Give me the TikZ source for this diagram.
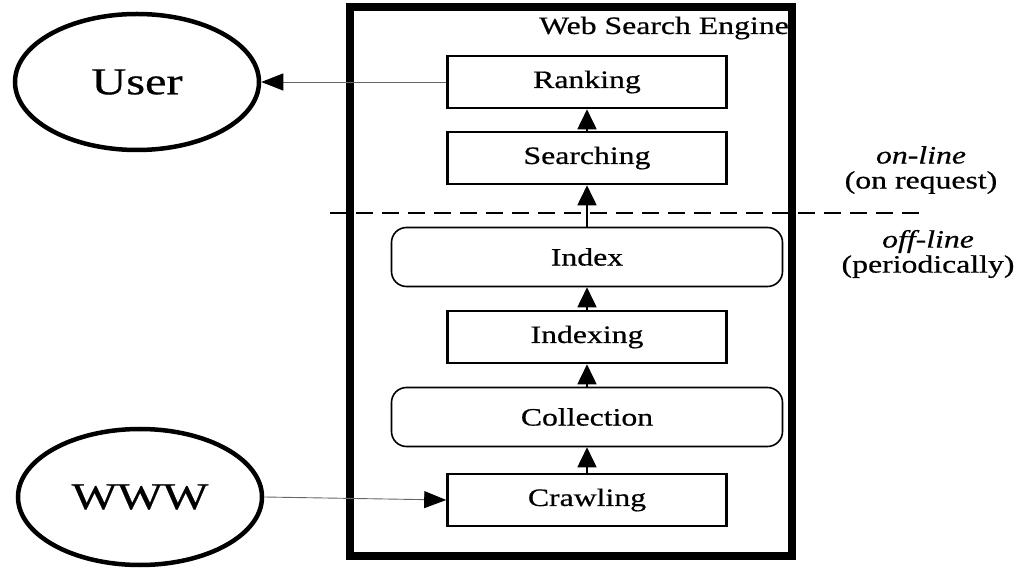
\documentclass[tikz,border=0pt]{standalone}
\usepackage{fontspec}
\setmainfont{Liberation Serif}[FakeStretch=1.27,FakeBold=0.6]
\usetikzlibrary{arrows.meta,shapes.geometric}
\begin{document}
\begin{tikzpicture}[x=1pt,y=-1pt,
  stage/.style={draw,line width=2.6pt,minimum width=279pt,minimum height=52pt,inner sep=0pt,font=\fontsize{25}{28}\selectfont},
  store/.style={draw,line width=1.6pt,rounded corners=15pt,minimum width=391pt,minimum height=59pt,inner sep=0pt,font=\fontsize{25}{28}\selectfont},
  actor/.style={draw,ellipse,line width=4.5pt,minimum width=244pt,minimum height=136pt,inner sep=0pt,font=\fontsize{38}{42}\selectfont},
  flow/.style={line width=1.8pt,-{Triangle[length=20pt,width=19pt]}},
  link/.style={line width=0.9pt,draw=black!60,-{Triangle[length=22pt,width=17pt,color=black,fill=black]}},
  note/.style={font=\fontsize{25}{28}\selectfont,align=center,inner sep=0pt}]
\useasboundingbox (0,0) rectangle (1021,569);
% engine frame
\draw[line width=7.5pt] (350,7) rectangle (792,556);
\node[note,anchor=east] (title) at (789,28) {Web Search Engine};
% pipeline stages
\node[stage] (rank) at (587,82) {Ranking};
\node[stage] (search) at (587,158) {Searching};
\node[store] (index) at (587,257) {Index};
\node[stage] (indexing) at (587,337) {Indexing};
\node[store] (coll) at (587,417) {Collection};
\node[stage] (crawl) at (587,500) {Crawling};
% on-line / off-line divider
\coordinate (dl) at (330,213);
\coordinate (dr) at (925,213);
\draw[line width=2.6pt,dash pattern=on 17pt off 9pt] (dl) -- (dr);
\node[note] (online) at (921,170) {\textit{on-line}\\[-3pt](on request)};
\node[note] (offline) at (928,254) {\textit{off-line}\\[-3pt](periodically)};
% outside actors
\node[actor] (user) at (137,82) {User};
\node[actor] (www) at (140,497) {WWW};
% data flow
\draw[flow] (crawl) -- (coll);
\draw[flow] (coll) -- (indexing);
\draw[flow] (indexing) -- (index);
\draw[flow] (index) -- (search);
\draw[flow] (search) -- (rank);
\draw[link] (rank.west) -- (user.east);
\draw[link] (www.east) -- (crawl.west);
\end{tikzpicture}
\end{document}
